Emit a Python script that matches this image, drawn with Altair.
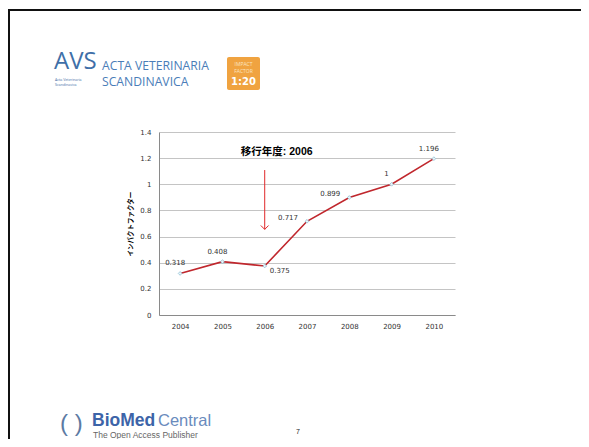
import altair as alt
import pandas as pd

years = ["2004", "2005", "2006", "2007", "2008", "2009", "2010"]
impact = [0.318, 0.408, 0.375, 0.717, 0.899, 1.0, 1.196]
value_labels = ["0.318", "0.408", "0.375", "0.717", "0.899", "1", "1.196"]
y_ticks = [0, 0.2, 0.4, 0.6, 0.8, 1.0, 1.2, 1.4]

note_year = "2006"
note_text = "移行年度: 2006"
arrow_from = 1.109
arrow_to = 0.655

df = pd.DataFrame({"year": years, "impact": impact, "label": value_labels})
note_df = pd.DataFrame({"year": [note_year], "top": [arrow_from], "bottom": [arrow_to],
                        "text": [note_text], "ty": [1.245]})

LINE = "#c0272d"
TXT = "#333333"
NUM_FONT = "DejaVu Sans"
CJK = "Noto Sans CJK JP"

x_axis = alt.Axis(title=None, labelAngle=0, ticks=False, grid=False,
                  labelFont=NUM_FONT, labelFontSize=7, labelColor=TXT,
                  labelPadding=7, domainColor="#8a8a8a")
y_axis = alt.Axis(values=y_ticks, format="~g", title="インパクトファクター",
                  titleFont=CJK, titleFontSize=6.5, titleFontWeight="bold",
                  titleColor="#000000", titlePadding=6, labelOverlap=False,
                  labelFont=NUM_FONT, labelFontSize=7, labelColor=TXT,
                  labelPadding=8, ticks=False, gridColor="#c4c4c4",
                  domainColor="#8a8a8a")
x_scale = alt.Scale(type="point", padding=0.5, domain=years)
y_scale = alt.Scale(domain=[0, 1.4])

def xo():
    return alt.X("year:O", scale=x_scale, axis=x_axis)

def yq(f):
    return alt.Y(f, type="quantitative", scale=y_scale, axis=y_axis)

base = alt.Chart(df)
line = base.mark_line(color=LINE, strokeWidth=1.6).encode(x=xo(), y=yq("impact"))
pts = base.mark_point(shape="diamond", size=14, filled=True, fill="#eaf4f8",
                      stroke="#8fc0d6", strokeWidth=0.8, opacity=1).encode(x=xo(), y=yq("impact"))

def lbl(sel, **kw):
    return base.transform_filter(alt.FieldOneOfPredicate(field="year", oneOf=sel)).mark_text(
        font=NUM_FONT, fontSize=7, color=TXT, **kw).encode(x=xo(), y=yq("impact"), text="label:N")

lab_above = lbl(["2004", "2005", "2009", "2010"], dx=-5, dy=-10)
lab_right = lbl(["2006"], align="left", dx=5, dy=5)
lab_left = lbl(["2007", "2008"], align="right", dx=-9, dy=-3)

nb = alt.Chart(note_df)
note = nb.mark_text(font="Liberation Sans, " + CJK, fontSize=10.5, fontWeight="bold",
                    color="#000000", dx=12).encode(x=xo(), y=yq("ty"), text="text:N")
arrow = nb.mark_rule(color="#e0282a", strokeWidth=1).encode(x=xo(), y=yq("top"), y2="bottom:Q")
head = nb.mark_point(shape="M-1,-1L0,0L1,-1", size=60, filled=False, color="#e0282a",
                     strokeWidth=1, opacity=1).encode(x=xo(), y=yq("bottom"))

one = alt.Data(values=[{"k": 1}])

def deco_text(text, x, y, **kw):
    return alt.Chart(one).mark_text(text=text, align=kw.pop("align", "left"), **kw).encode(
        x=alt.value(x), y=alt.value(y))

# slide decoration (positions relative to plot origin)
border_top = alt.Chart(one).mark_rule(color="#111111", strokeWidth=2).encode(
    x=alt.value(-151), x2=alt.value(430), y=alt.value(-122))
border_left = alt.Chart(one).mark_rule(color="#111111", strokeWidth=2).encode(
    x=alt.value(-150), y=alt.value(-123), y2=alt.value(320))

blue = "#3f6fa8"
avs = deco_text("AVS", -105, -63, font="Open Sans", fontSize=24, color=blue, baseline="alphabetic")
avs_small = deco_text(["Acta Veterinaria", "Scandinavica"], -104, -54, font="Open Sans",
                      fontSize=3.6, lineHeight=4.5, color=blue, baseline="top")
journal = deco_text(["ACTA VETERINARIA", "SCANDINAVICA"], -57, -62, font="Open Sans",
                    fontSize=12.2, lineHeight=15.5, color="#4a7db8", baseline="alphabetic")
box = alt.Chart(one).mark_rect(color="#f0a340", cornerRadius=2).encode(
    x=alt.value(68), x2=alt.value(101), y=alt.value(-75), y2=alt.value(-42))
imp = deco_text(["IMPACT", "FACTOR"], 84.5, -70, align="center", font="Open Sans", fontSize=5,
                lineHeight=7, color="#fbe3c0", baseline="top")
imp3 = deco_text("1:20", 84.5, -50, align="center", font="DejaVu Sans", fontSize=10, fontWeight="bold",
                 color="#ffffff")

circ = deco_text("( )", -99, 292, align="left", font="Liberation Sans", fontSize=24, color="#5c7aa3")
bio = deco_text("BioMed", -67, 294, font="Liberation Sans", fontSize=17.5, fontWeight="bold",
                color="#3d64a8", baseline="alphabetic")
central = deco_text("Central", -1, 294, font="Liberation Sans", fontSize=16.5, color="#6a8bbd",
                    baseline="alphabetic")
pub = deco_text("The Open Access Publisher", -66, 306, font="Liberation Sans", fontSize=8.5,
                color="#666666", baseline="alphabetic")
page_no = deco_text("7", 139, 300, align="center", font="Liberation Sans", fontSize=7, color="#222222")

chart = alt.layer(
    line, pts, lab_above, lab_right, lab_left, note, arrow, head,
    border_top, border_left, avs, avs_small, journal, box, imp, imp3,
    circ, bio, central, pub, page_no,
).properties(
    width=296, height=183,
    autosize=alt.AutoSizeParams(type="none"),
    padding={"left": 151, "top": 124, "right": 126, "bottom": 124},
    background="#ffffff",
).configure_view(stroke=None)

chart.save("out.html", embed_options={"renderer": "svg", "actions": False})
